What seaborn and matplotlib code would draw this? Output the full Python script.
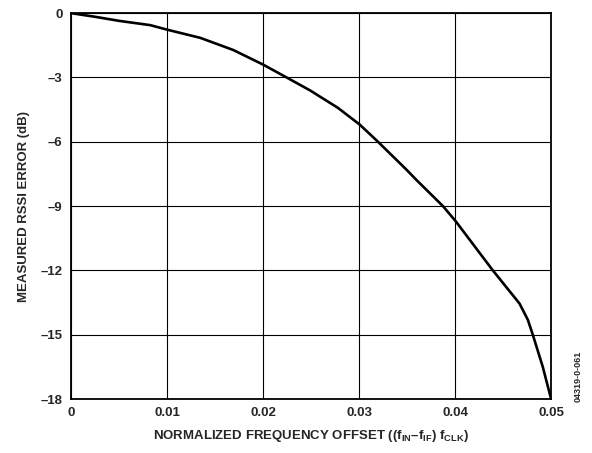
import matplotlib
matplotlib.use("Agg")
import matplotlib.pyplot as plt
import seaborn as sns
import pandas as pd

freq_offset = [0, 0.0025, 0.005, 0.00825, 0.01, 0.01344, 0.0169, 0.02, 0.02245, 0.02488,
               0.0278, 0.03007, 0.03197, 0.03493, 0.03597, 0.03873, 0.04005, 0.04393,
               0.0467, 0.04757, 0.04809, 0.04913, 0.04958, 0.05]
rssi_error = [0, -0.17, -0.36, -0.56, -0.77, -1.15, -1.72, -2.4, -3.0, -3.6,
              -4.42, -5.2, -6.0, -7.3, -7.78, -9.0, -9.7, -12.0,
              -13.54, -14.3, -15.0, -16.5, -17.28, -18.0]
x_ticks = [0, 0.01, 0.02, 0.03, 0.04, 0.05]
x_tick_labels = ["0", "0.01", "0.02", "0.03", "0.04", "0.05"]
y_ticks = [0, -3, -6, -9, -12, -15, -18]
y_tick_labels = ["0", "\u20133", "\u20136", "\u20139", "\u201312", "\u201315", "\u201318"]

sns.set_style("white")
plt.rcParams['font.family'] = ['Liberation Sans', 'DejaVu Sans']
plt.rcParams['font.weight'] = 'bold'
plt.rcParams['mathtext.fontset'] = 'custom'
plt.rcParams['mathtext.rm'] = 'Liberation Sans:bold'
plt.rcParams['mathtext.it'] = 'Liberation Sans:bold'
plt.rcParams['mathtext.bf'] = 'Liberation Sans:bold'

df = pd.DataFrame({"x": freq_offset, "y": rssi_error})

fig = plt.figure(figsize=(5.92, 4.53), dpi=100)
ax = fig.add_axes([0.12, 0.119, 0.811, 0.852])
sns.lineplot(data=df, x="x", y="y", ax=ax, color="black", linewidth=1.9)
ax.lines[0].set_solid_joinstyle('round')

ax.set_xlim(0, 0.05)
ax.set_ylim(-18, 0)
ax.set_xticks(x_ticks)
ax.set_xticklabels(x_tick_labels, fontsize=9.5, fontweight='bold')
ax.set_yticks(y_ticks)
ax.set_yticklabels(y_tick_labels, fontsize=9.5, fontweight='bold')
ax.tick_params(length=0, pad=6)
ax.grid(True, color="black", linewidth=0.8)
for s in ax.spines.values():
    s.set_visible(True)
    s.set_color("black")
    s.set_linewidth(1.3)

ax.set_xlabel("NORMALIZED FREQUENCY OFFSET ((f$_{\\mathrm{IN}}$\u2013f$_{\\mathrm{IF}}$) f$_{\\mathrm{CLK}}$)",
              fontsize=9.5, fontweight='bold', labelpad=6)
ax.set_ylabel("MEASURED RSSI ERROR (dB)", fontsize=9.5, fontweight='bold', labelpad=8)

fig.text(0.976, 0.17, "04319-0-061", rotation=90, fontsize=6.5, fontweight='bold',
         ha='center', va='center')

fig.savefig("out.png", dpi=100)
